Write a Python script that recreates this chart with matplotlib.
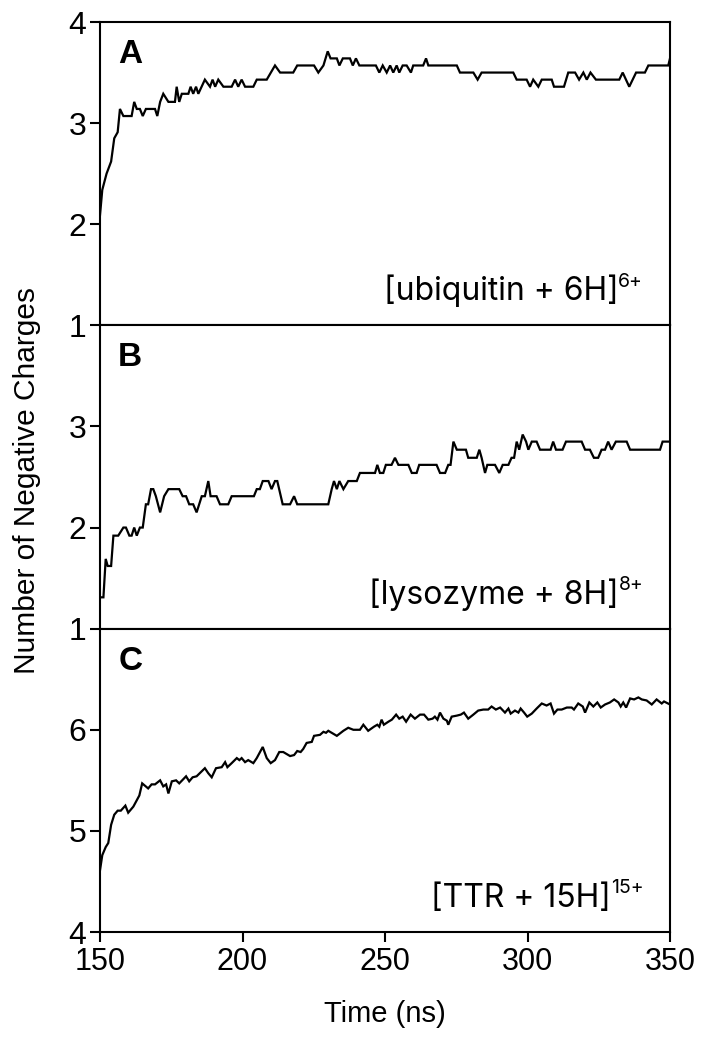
import matplotlib
matplotlib.use("Agg")
import matplotlib.pyplot as plt
from matplotlib import font_manager

# fonts
names = {f.name for f in font_manager.fontManager.ttflist}
narrow = 'Liberation Sans Narrow' if 'Liberation Sans Narrow' in names else 'Liberation Sans'
plt.rcParams['font.family'] = ['Liberation Sans', 'DejaVu Sans']

# --
# data

# A: [ubiquitin + 6H]6+
time_a = [150.0, 150.8, 152.3, 153.9, 155.0, 156.2, 157.0, 158.2, 161.1, 162.0,
          162.9, 164.0, 165.0, 166.1, 169.3, 170.1, 171.1, 172.2, 174.0, 176.3,
          176.9, 177.8, 178.7, 181.0, 181.8, 182.7, 183.7, 184.5, 186.8, 188.6,
          189.5, 190.4, 191.5, 193.3, 196.2, 197.4, 198.5, 199.7, 200.9, 203.8,
          205.0, 208.5, 211.4, 213.2, 217.8, 219.2, 225.1, 226.6, 228.4, 229.9,
          230.9, 233.1, 234.0, 235.2, 237.7, 238.7, 239.8, 241.0, 246.8, 248.0,
          249.2, 250.6, 251.8, 252.9, 254.1, 255.0, 256.2, 257.6, 259.1, 259.9,
          263.4, 264.4, 265.2, 275.2, 276.3, 281.0, 282.5, 283.9, 295.0, 296.2,
          299.7, 300.9, 302.0, 303.8, 305.0, 308.5, 309.3, 312.8, 314.3, 316.7,
          318.1, 319.6, 320.8, 322.1, 324.0, 332.2, 333.4, 335.7, 338.1, 341.2,
          342.4, 349.4, 350.0]
charge_a = [2.09, 2.34, 2.50, 2.62, 2.85, 2.91, 3.14, 3.07, 3.07, 3.21,
            3.14, 3.14, 3.07, 3.14, 3.14, 3.07, 3.21, 3.29, 3.21, 3.21,
            3.36, 3.21, 3.29, 3.29, 3.36, 3.29, 3.36, 3.29, 3.43, 3.36,
            3.43, 3.36, 3.43, 3.36, 3.36, 3.43, 3.36, 3.43, 3.36, 3.36,
            3.43, 3.43, 3.57, 3.50, 3.50, 3.57, 3.57, 3.50, 3.57, 3.71,
            3.64, 3.64, 3.57, 3.64, 3.64, 3.57, 3.64, 3.57, 3.57, 3.50,
            3.57, 3.50, 3.57, 3.50, 3.57, 3.50, 3.57, 3.57, 3.50, 3.57,
            3.57, 3.64, 3.57, 3.57, 3.50, 3.50, 3.43, 3.50, 3.50, 3.43,
            3.43, 3.36, 3.43, 3.36, 3.43, 3.43, 3.36, 3.36, 3.50, 3.50,
            3.43, 3.50, 3.43, 3.50, 3.43, 3.43, 3.50, 3.36, 3.50, 3.50,
            3.57, 3.57, 3.64]

# B: [lysozyme + 8H]8+
time_b = [150.0, 151.2, 152.0, 152.7, 153.9, 154.7, 156.4, 158.2, 159.1, 160.3,
          161.1, 162.0, 162.9, 164.0, 165.0, 166.1, 166.9, 167.9, 168.7, 169.6,
          171.1, 172.5, 174.0, 177.8, 179.0, 180.2, 181.3, 182.7, 183.9, 185.7,
          186.8, 188.0, 188.8, 190.9, 192.1, 195.0, 196.2, 204.0, 205.0, 206.1,
          207.1, 209.1, 210.2, 211.4, 212.2, 214.1, 216.7, 218.1, 219.2, 230.1,
          231.3, 232.1, 233.1, 234.0, 235.4, 237.1, 240.1, 241.2, 246.5, 247.3,
          248.2, 249.4, 250.3, 252.3, 253.5, 254.7, 258.2, 259.4, 261.1, 262.0,
          268.1, 269.3, 271.1, 272.2, 273.0, 274.0, 275.2, 278.4, 279.2, 282.2,
          283.1, 283.9, 285.1, 285.9, 288.6, 290.1, 291.3, 293.3, 294.4, 295.3,
          296.2, 297.1, 298.3, 299.5, 300.3, 301.5, 303.2, 304.4, 308.1, 309.0,
          310.0, 312.3, 313.5, 319.0, 320.2, 321.9, 323.3, 324.8, 326.0, 327.2,
          328.3, 329.5, 331.0, 334.8, 336.0, 346.5, 347.4, 350.0]
charge_b = [1.31, 1.31, 1.69, 1.62, 1.62, 1.92, 1.92, 2.00, 2.00, 1.92,
            1.92, 2.00, 1.92, 2.00, 2.00, 2.23, 2.23, 2.38, 2.38, 2.31,
            2.15, 2.31, 2.38, 2.38, 2.31, 2.31, 2.23, 2.23, 2.15, 2.31,
            2.31, 2.46, 2.31, 2.31, 2.23, 2.23, 2.31, 2.31, 2.38, 2.38,
            2.46, 2.46, 2.38, 2.46, 2.46, 2.23, 2.23, 2.31, 2.23, 2.23,
            2.38, 2.46, 2.38, 2.46, 2.38, 2.46, 2.46, 2.54, 2.54, 2.62,
            2.54, 2.54, 2.62, 2.62, 2.69, 2.62, 2.62, 2.54, 2.54, 2.62,
            2.62, 2.54, 2.54, 2.62, 2.62, 2.85, 2.77, 2.77, 2.69, 2.69,
            2.77, 2.69, 2.54, 2.62, 2.62, 2.54, 2.62, 2.62, 2.69, 2.69,
            2.85, 2.77, 2.92, 2.85, 2.77, 2.85, 2.85, 2.77, 2.77, 2.85,
            2.77, 2.77, 2.85, 2.85, 2.77, 2.77, 2.69, 2.69, 2.77, 2.77,
            2.85, 2.77, 2.85, 2.85, 2.77, 2.77, 2.85, 2.85]

# C: [TTR + 15H]15+
time_c = [150.0, 150.8, 152.0, 152.9, 153.9, 155.0, 156.2, 157.3, 158.9, 159.9,
          161.7, 163.8, 164.8, 166.9, 168.1, 169.3, 171.1, 172.2, 173.2, 174.0,
          175.2, 176.7, 177.8, 180.2, 181.3, 182.5, 183.9, 186.8, 188.0, 189.2,
          190.7, 192.7, 193.9, 194.7, 196.2, 198.0, 198.9, 199.7, 200.9, 202.0,
          203.8, 205.0, 207.1, 208.5, 209.9, 211.4, 212.9, 214.3, 216.7, 218.1,
          219.2, 220.4, 221.3, 222.5, 224.3, 225.1, 227.2, 228.4, 229.3, 230.1,
          231.3, 233.1, 235.4, 237.1, 238.9, 241.2, 242.4, 244.1, 246.1, 247.3,
          248.0, 248.8, 249.6, 251.2, 252.4, 253.9, 255.0, 256.2, 257.4, 259.0,
          260.5, 262.3, 263.7, 265.2, 266.7, 267.5, 268.4, 269.3, 270.5, 271.7,
          272.2, 273.4, 275.2, 276.6, 277.7, 279.2, 281.0, 282.7, 284.5, 286.2,
          287.4, 288.9, 290.4, 292.1, 293.3, 294.1, 295.6, 296.8, 297.6, 298.8,
          299.9, 301.5, 303.2, 305.0, 306.7, 308.1, 309.3, 310.5, 312.0, 313.8,
          315.5, 316.3, 317.8, 319.4, 320.2, 321.7, 323.1, 324.5, 325.7, 327.2,
          328.9, 330.4, 331.9, 332.7, 333.6, 334.6, 336.0, 337.4, 338.9, 340.1,
          341.8, 343.6, 345.3, 347.1, 347.9, 350.0]
charge_c = [4.61, 4.76, 4.84, 4.88, 5.06, 5.16, 5.20, 5.20, 5.25, 5.18,
            5.24, 5.35, 5.47, 5.42, 5.46, 5.46, 5.50, 5.44, 5.46, 5.37,
            5.49, 5.50, 5.47, 5.54, 5.49, 5.53, 5.54, 5.62, 5.57, 5.53,
            5.62, 5.63, 5.68, 5.63, 5.67, 5.72, 5.70, 5.72, 5.68, 5.70,
            5.67, 5.72, 5.83, 5.72, 5.67, 5.70, 5.78, 5.78, 5.74, 5.75,
            5.79, 5.78, 5.81, 5.87, 5.88, 5.94, 5.95, 5.98, 5.97, 5.99,
            5.97, 5.94, 5.99, 6.02, 6.00, 6.00, 6.05, 5.99, 6.03, 6.05,
            6.03, 6.10, 6.05, 6.08, 6.10, 6.15, 6.11, 6.13, 6.08, 6.15,
            6.11, 6.15, 6.15, 6.10, 6.11, 6.13, 6.10, 6.17, 6.11, 6.09,
            6.05, 6.13, 6.14, 6.15, 6.17, 6.11, 6.15, 6.19, 6.20, 6.20,
            6.23, 6.20, 6.22, 6.17, 6.21, 6.16, 6.19, 6.17, 6.21, 6.17,
            6.13, 6.16, 6.21, 6.26, 6.24, 6.26, 6.16, 6.20, 6.20, 6.22,
            6.22, 6.20, 6.26, 6.23, 6.17, 6.27, 6.23, 6.27, 6.22, 6.25,
            6.27, 6.30, 6.27, 6.23, 6.27, 6.22, 6.31, 6.30, 6.32, 6.30,
            6.29, 6.25, 6.30, 6.26, 6.28, 6.25]

letters = ['A', 'B', 'C']
species = ['[ubiquitin + 6H]', '[lysozyme + 8H]', '[TTR + 15H]']
charges = ['6+', '8+', '15+']
ylims = [(1, 4), (1, 4), (4, 7)]
yticks = [[1, 2, 3, 4], [1, 2, 3], [4, 5, 6]]
xticks = [150, 200, 250, 300, 350]

series = [(time_a, charge_a), (time_b, charge_b), (time_c, charge_c)]

# --
# figure
fig = plt.figure(figsize=(7.01, 10.38), dpi=100)

left, right = 100 / 701, 670 / 701
top_px, bot_px = 22, 932
h_px = (bot_px - top_px) / 3

axes = []
for i in range(3):
  y0 = 1 - (top_px + (i + 1) * h_px) / 1038
  ax = fig.add_axes([left, y0, right - left, h_px / 1038])
  axes.append(ax)

for i, ax in enumerate(axes):
  t, q = series[i]
  ax.plot(t, q, color='black', lw=1.6, solid_joinstyle='miter')
  ax.set_xlim(150, 350)
  ax.set_ylim(*ylims[i])
  ax.set_yticks(yticks[i])
  ax.set_xticks(xticks)

  for sp in ax.spines.values():
    sp.set_linewidth(1.5)

  ax.tick_params(axis='y', direction='out', length=7, width=1.5, pad=3,
                 labelsize=23, labelfontfamily=narrow)
  if i < 2:
    ax.tick_params(axis='x', bottom=False, labelbottom=False)
  else:
    ax.tick_params(axis='x', direction='out', length=7, width=1.5, pad=4,
                   labelsize=22, labelfontfamily=narrow)

  # panel letter
  ax.text(0.032, 0.865, letters[i], transform=ax.transAxes, fontsize=24,
          fontweight='bold', ha='left', va='baseline')

  # species label with superscript charge
  sup = ax.text(0.953, 0.127, charges[i], transform=ax.transAxes, fontsize=14,
                family='Inter', ha='right', va='baseline')
  ax.annotate(species[i], xy=(0, 0.082), xycoords=(sup, ax.transAxes),
              fontsize=23, family='Inter', ha='right', va='baseline')

axes[2].set_xlabel('Time (ns)', fontsize=21, family=narrow, labelpad=16)
fig.text(27 / 701, 1 - 480 / 1038, 'Number of Negative Charges', rotation=90,
         fontsize=21.5, ha='center', va='center')

fig.savefig('out.png', dpi=100)
